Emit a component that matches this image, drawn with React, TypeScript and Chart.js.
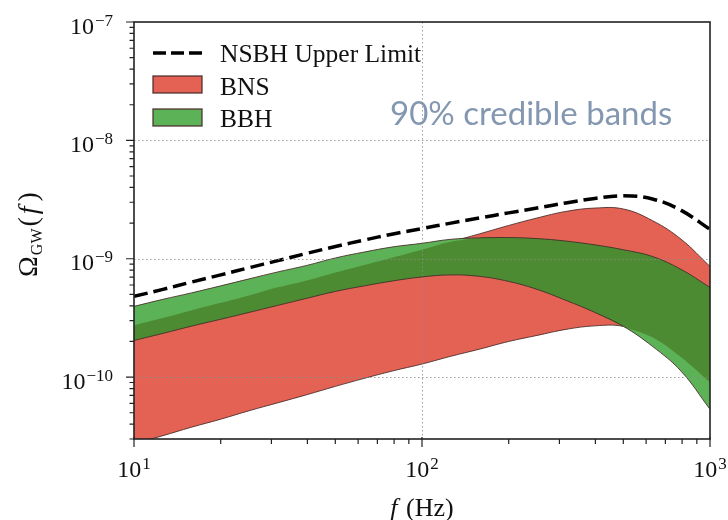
import { useEffect, useRef } from "react";
import { Chart, registerables } from "chart.js";

Chart.register(...registerables);

// ---- data ----
const freqs = [10, 12.6, 15.8, 20, 25.1, 31.6, 39.8, 50.1, 63.1, 79.4, 100, 126, 158, 200, 251, 316, 398, 501, 631, 794, 1000];
const nsbhUpper = [4.81e-10, 5.51e-10, 6.34e-10, 7.3e-10, 8.4e-10, 9.64e-10, 1.11e-9, 1.27e-9, 1.44e-9, 1.62e-9, 1.8e-9, 2.0e-9, 2.21e-9, 2.44e-9, 2.68e-9, 2.96e-9, 3.23e-9, 3.4e-9, 3.2e-9, 2.56e-9, 1.77e-9];
const bnsUpper = [2.74e-10, 3.16e-10, 3.66e-10, 4.24e-10, 4.9e-10, 5.73e-10, 6.56e-10, 7.66e-10, 8.87e-10, 1.025e-9, 1.19e-9, 1.39e-9, 1.62e-9, 1.91e-9, 2.21e-9, 2.51e-9, 2.68e-9, 2.63e-9, 2.1e-9, 1.46e-9, 8.61e-10];
const bnsLower = [2.74e-11, 3.2e-11, 3.77e-11, 4.41e-11, 5.2e-11, 6.07e-11, 7.1e-11, 8.36e-11, 9.77e-11, 1.13e-10, 1.29e-10, 1.5e-10, 1.72e-10, 2.0e-10, 2.25e-10, 2.53e-10, 2.71e-10, 2.68e-10, 2.17e-10, 1.47e-10, 9.04e-11];
const bbhUpper = [3.96e-10, 4.54e-10, 5.14e-10, 5.9e-10, 6.76e-10, 7.74e-10, 8.78e-10, 1.016e-9, 1.14e-9, 1.26e-9, 1.35e-9, 1.46e-9, 1.5e-9, 1.51e-9, 1.48e-9, 1.41e-9, 1.31e-9, 1.19e-9, 1.045e-9, 8.12e-10, 5.73e-10];
const bbhLower = [2.04e-10, 2.34e-10, 2.69e-10, 3.08e-10, 3.52e-10, 4.04e-10, 4.63e-10, 5.3e-10, 5.9e-10, 6.5e-10, 7.02e-10, 7.3e-10, 7.1e-10, 6.43e-10, 5.51e-10, 4.45e-10, 3.52e-10, 2.68e-10, 1.82e-10, 1.12e-10, 5.35e-11];

const xRange = [10, 1000];
const yRange = [3e-11, 1e-7];
const xMajorTicks = [10, 100, 1000];
const xTickExponents = ["1", "2", "3"];
const yMajorTicks = [1e-10, 1e-9, 1e-8, 1e-7];
const yTickExponents = ["\u221210", "\u22129", "\u22128", "\u22127"];
const legendLabels = ["NSBH Upper Limit", "BNS", "BBH"];
const annotationText = "90% credible bands";

// ---- styles ----
const RED = "rgb(228,98,84)";
const GREEN = "rgb(92,178,86)";
const DARK_GREEN = "rgb(77,139,50)";
const EDGE = "rgba(70,40,40,0.85)";
const SERIF = "'Liberation Serif', 'DejaVu Serif', serif";

const pts = (arr: number[]) => freqs.map((f, i) => ({ x: f, y: arr[i] }));
const overlapHigh = freqs.map((f, i) => ({ x: f, y: Math.min(bnsUpper[i], bbhUpper[i]) }));
const overlapLow = freqs.map((f, i) => ({ x: f, y: Math.max(bnsLower[i], bbhLower[i]) }));

const base = {
  pointRadius: 0,
  pointHoverRadius: 0,
  tension: 0.4,
};

const decor = {
  id: "decor",
  afterDatasetsDraw(chart: any) {
    const { ctx, chartArea: a } = chart;
    const xs = chart.scales.x;
    const ys = chart.scales.y;
    ctx.save();

    // annotation
    ctx.font = "33px Lato";
    ctx.fillStyle = "#8497b0";
    ctx.textAlign = "left";
    ctx.textBaseline = "alphabetic";
    ctx.fillText(annotationText, 390, 125);

    // dotted grid
    ctx.strokeStyle = "rgba(140,140,140,0.85)";
    ctx.lineWidth = 1;
    ctx.setLineDash([1.5, 2.5]);
    ctx.beginPath();
    xMajorTicks.forEach((v) => {
      const p = Math.round(xs.getPixelForValue(v)) + 0.5;
      if (p > a.left + 2 && p < a.right - 2) {
        ctx.moveTo(p, a.top);
        ctx.lineTo(p, a.bottom);
      }
    });
    yMajorTicks.forEach((v) => {
      const p = Math.round(ys.getPixelForValue(v)) + 0.5;
      if (p > a.top + 2 && p < a.bottom - 2) {
        ctx.moveTo(a.left, p);
        ctx.lineTo(a.right, p);
      }
    });
    ctx.stroke();
    ctx.setLineDash([]);

    // frame
    ctx.strokeStyle = "#222";
    ctx.lineWidth = 1.6;
    ctx.strokeRect(a.left, a.top, a.right - a.left, a.bottom - a.top);

    // ticks
    ctx.lineWidth = 1.2;
    ctx.beginPath();
    for (let e = -11; e <= -7; e++) {
      for (let k = 1; k <= 9; k++) {
        const v = k * Math.pow(10, e);
        if (v < yRange[0] * 0.999 || v > yRange[1] * 1.001) continue;
        const p = ys.getPixelForValue(v);
        const len = k === 1 ? 8 : 4.5;
        ctx.moveTo(a.left, p);
        ctx.lineTo(a.left - len, p);
      }
    }
    for (let e = 1; e <= 3; e++) {
      for (let k = 1; k <= 9; k++) {
        const v = k * Math.pow(10, e);
        if (v > xRange[1] * 1.001) continue;
        const p = xs.getPixelForValue(v);
        const len = k === 1 ? 8 : 5;
        ctx.moveTo(p, a.bottom - (k === 1 ? 2 : 0));
        ctx.lineTo(p, a.bottom + len);
      }
    }
    ctx.stroke();

    // tick labels
    ctx.fillStyle = "#111";
    const drawPow = (x: number, baseY: number, exp: string, align: string) => {
      ctx.font = `24px ${SERIF}`;
      const wb = ctx.measureText("10").width;
      ctx.font = `17px ${SERIF}`;
      const we = ctx.measureText(exp).width;
      const w = wb + 1 + we;
      const left = align === "right" ? x - w : x - w / 2;
      ctx.textAlign = "left";
      ctx.font = `24px ${SERIF}`;
      ctx.fillText("10", left, baseY);
      ctx.font = `17px ${SERIF}`;
      ctx.fillText(exp, left + wb + 1, baseY - 8);
    };
    yMajorTicks.forEach((v, i) => {
      const p = ys.getPixelForValue(v);
      drawPow(a.left - 21, p + 11.5, yTickExponents[i], "right");
    });
    xMajorTicks.forEach((v, i) => {
      const p = xs.getPixelForValue(v);
      drawPow(p, 477, xTickExponents[i], "center");
    });

    // x title
    ctx.font = `italic 26px ${SERIF}`;
    const wf = ctx.measureText("f").width;
    ctx.font = `26px ${SERIF}`;
    const wr = ctx.measureText(" (Hz)").width;
    const cx = (a.left + a.right) / 2;
    const sx = cx - (wf + 2 + wr) / 2;
    ctx.font = `italic 26px ${SERIF}`;
    ctx.fillText("f", sx, 516);
    ctx.font = `26px ${SERIF}`;
    ctx.fillText(" (Hz)", sx + wf + 2, 516);

    // y title (rotated)
    ctx.save();
    ctx.translate(36.5, (a.top + a.bottom) / 2 + 4);
    ctx.rotate(-Math.PI / 2);
    const parts = [
      { t: "\u03A9", f: `28px ${SERIF}`, dy: 0, gap: 1 },
      { t: "GW", f: `16px ${SERIF}`, dy: 5, gap: 2 },
      { t: "(", f: `28px ${SERIF}`, dy: 0, gap: 3 },
      { t: "f", f: `italic 28px ${SERIF}`, dy: 0, gap: 5 },
      { t: ")", f: `28px ${SERIF}`, dy: 0, gap: 0 },
    ];
    let tw = 0;
    const widths = parts.map((p) => {
      ctx.font = p.f;
      const w = ctx.measureText(p.t).width;
      tw += w + p.gap;
      return w;
    });
    let px = -tw / 2;
    parts.forEach((p, i) => {
      ctx.font = p.f;
      ctx.fillText(p.t, px, p.dy);
      px += widths[i] + p.gap;
    });
    ctx.restore();

    // legend
    const lx = a.left + 19;
    const lw = 49;
    const tx = a.left + 86;
    ctx.strokeStyle = "#000";
    ctx.lineWidth = 3.5;
    ctx.setLineDash([13, 5]);
    ctx.beginPath();
    ctx.moveTo(lx, 53);
    ctx.lineTo(lx + lw, 53);
    ctx.stroke();
    ctx.setLineDash([]);
    ctx.lineWidth = 1.4;
    ctx.strokeStyle = EDGE;
    ctx.fillStyle = RED;
    ctx.fillRect(lx, 76, lw, 17);
    ctx.strokeRect(lx, 76, lw, 17);
    ctx.fillStyle = GREEN;
    ctx.fillRect(lx, 109, lw, 17);
    ctx.strokeRect(lx, 109, lw, 17);
    ctx.fillStyle = "#111";
    ctx.font = `25.5px ${SERIF}`;
    ctx.fillText(legendLabels[0], tx, 62);
    ctx.fillText(legendLabels[1], tx, 94.5);
    ctx.fillText(legendLabels[2], tx, 127);

    ctx.restore();
  },
};

export default function App() {
  const ref = useRef<HTMLCanvasElement>(null);
  useEffect(() => {
    const chart = new Chart(ref.current as HTMLCanvasElement, {
      type: "line",
      data: {
        datasets: [
          { ...base, label: legendLabels[0], data: pts(nsbhUpper), borderColor: "#000", borderWidth: 3.5, borderDash: [14, 6], fill: false },
          { ...base, label: "BBH upper edge", data: pts(bbhUpper), borderColor: EDGE, borderWidth: 1, fill: false },
          { ...base, label: "BBH lower edge", data: pts(bbhLower), borderColor: EDGE, borderWidth: 1, fill: false },
          { ...base, label: "overlap high", data: overlapHigh, borderWidth: 0, borderColor: "rgba(0,0,0,0)", backgroundColor: DARK_GREEN, fill: "+1" },
          { ...base, label: "overlap low", data: overlapLow, borderWidth: 0, borderColor: "rgba(0,0,0,0)", fill: false },
          { ...base, label: legendLabels[2], data: pts(bbhUpper), borderWidth: 0, borderColor: "rgba(0,0,0,0)", backgroundColor: GREEN, fill: "+1" },
          { ...base, label: "BBH lower", data: pts(bbhLower), borderWidth: 0, borderColor: "rgba(0,0,0,0)", fill: false },
          { ...base, label: "BNS upper edge", data: pts(bnsUpper), borderColor: EDGE, borderWidth: 1, fill: false },
          { ...base, label: "BNS lower edge", data: pts(bnsLower), borderColor: EDGE, borderWidth: 1, fill: false },
          { ...base, label: legendLabels[1], data: pts(bnsUpper), borderWidth: 0, borderColor: "rgba(0,0,0,0)", backgroundColor: RED, fill: "+1" },
          { ...base, label: "BNS lower", data: pts(bnsLower), borderWidth: 0, borderColor: "rgba(0,0,0,0)", fill: false },
        ],
      },
      options: {
        responsive: false,
        animation: false,
        devicePixelRatio: 1,
        layout: { padding: { left: 0, right: 18, top: 22, bottom: 0 } },
        plugins: {
          legend: { display: false },
          tooltip: { enabled: false },
          filler: { drawTime: "beforeDatasetDraw" },
        },
        events: [],
        scales: {
          x: {
            type: "logarithmic",
            min: xRange[0],
            max: xRange[1],
            ticks: { display: false },
            grid: { display: false },
            border: { display: false },
            afterFit: (s: any) => {
              s.height = 81;
            },
          },
          y: {
            type: "logarithmic",
            min: yRange[0],
            max: yRange[1],
            ticks: { display: false },
            grid: { display: false },
            border: { display: false },
            afterFit: (s: any) => {
              s.width = 134;
            },
          },
        },
      } as any,
      plugins: [decor],
    });
    return () => chart.destroy();
  }, []);
  return (
    <div style={{ position: "absolute", left: 0, top: 0, width: 728, height: 520, background: "#fff" }}>
      <canvas ref={ref} width={728} height={520} style={{ display: "block", width: 728, height: 520 }} />
    </div>
  );
}
